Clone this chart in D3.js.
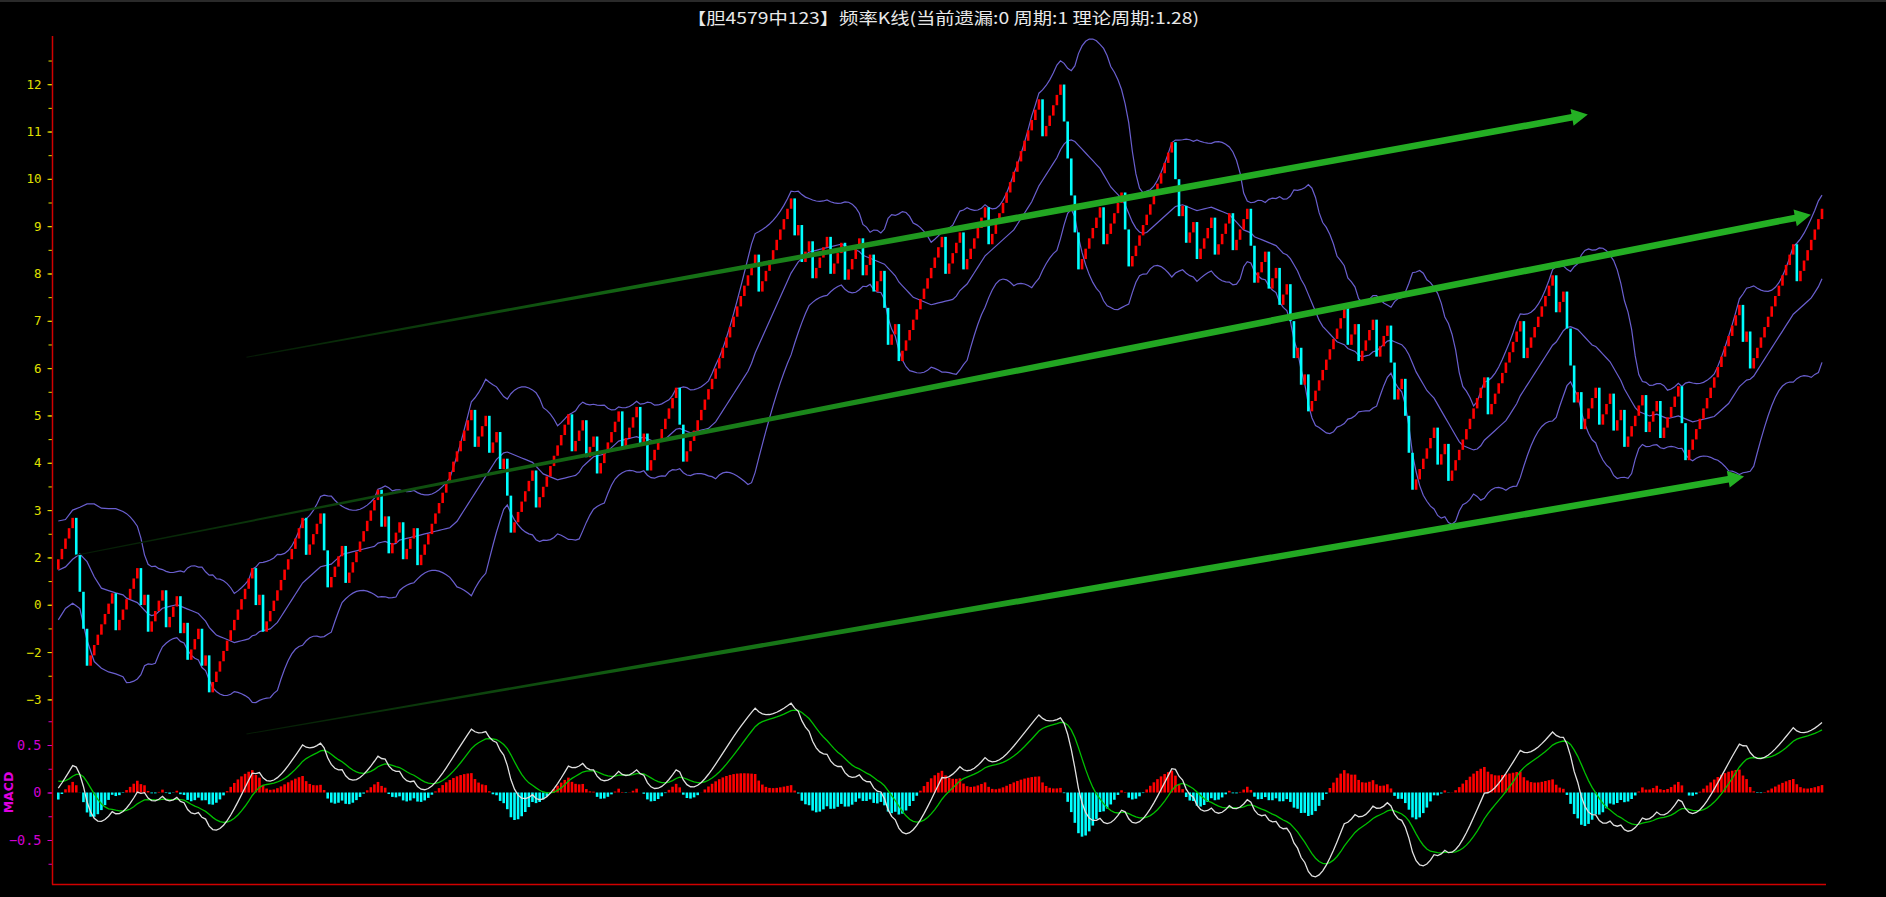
<!DOCTYPE html>
<html><head><meta charset="utf-8">
<script src="https://cdnjs.cloudflare.com/ajax/libs/d3/7.8.5/d3.min.js"></script>
<style>html,body{margin:0;padding:0;background:#000;overflow:hidden}</style>
</head><body><svg id="c" width="1886" height="897"></svg>
<script>
// ---------------- DATA ----------------
const title = "【胆4579中123】频率K线(当前遗漏:0 周期:1 理论周期:1.28)";
const theoryPeriod = 1.28;      // hit => +(1-1/T), miss => -(1/T)
const startValue = 1.743;       // value before the first bar
// run lengths read bar by bar: positive = consecutive hits (red, up), negative = consecutive misses (cyan, down)
const runsA = [5,-4,7,-1,6,-1,1,-1,4,-1,3,-1,1,-1,3,-1,1,-1,12,-1,1,-1,11,-1,4,-2,4,-1];
const runsB = [9,-1,1,-1,3,-1,3,-1,15,-1,3,-1,2,-1,1,-2,6,-1,9,-1,3,-1,2,-1,6,-1,4,-1];
const runsC = [1,-1,8,-2,20,-1,9,-1,1,-1,2,-1,4,-1,3,-1,4,-1,2,-1,2,-2,2,-1,12];
const runsD = [-1,4,-1,6,-1,14,-1,5,-5,6,-1,5,-2,12,-2,1,-1,2,-1,4,-1,4];
const runsE = [-1,4,-2,3,-1,2,-1,2,-2,1,-1,1,-1,10,-1,2,-1,4,-1,3,-2,2,-3,6,-1,2,-1,10,-1,9,-1];
const runsF = [8,-1,2,-3,1,-1,4,-1,3,-1,2,-1,5,-1,3,-1,5,-2,15,-1,1,-1,12,-1,7];

// Bollinger values before a full 20-bar window exists
const bollHeadIdx   = [0,2,4,6,8,10,12,14,16,18];
const bollHeadUpper = [2.77,2.80,3.00,3.06,3.13,3.13,3.04,3.03,3.03,2.97];
const bollHeadMid   = [1.73,1.80,1.96,2.07,1.91,1.59,1.35,1.30,1.25,1.21];
const bollHeadLower = [0.68,0.92,1.03,0.92,0.25,-0.20,-0.34,-0.42,-0.46,-0.52];
const bollPeriod = 20, bollWidth = 2;
// MACD state at first bar
const macdStartDif = 0.046, macdStartDea = 0.12, macdStartEma12Gap = -0.5;

const yTickValues = [12,11,10,9,8,7,6,5,4,3,2,1,0,-1];
const yTickLabels = ["12","11","10","9","8","7","6","5","4","3","2","0","−2","−3"];
const yMinorValues = d3.range(-1, 12.51, 0.5);
const macdTickValues = [0.5,0,-0.5];
const macdTickLabels = ["0.5","0","−0.5"];
const macdMinorValues = [0.75,0.5,0.25,0,-0.25,-0.5,-0.75];

// trend arrows: [start bar index, start value, tip bar index, tip value]
const arrowStartIdx = [52.4, 4.5, 52.4];
const arrowStartVal = [6.23, 2.04, -1.73];
const arrowTipIdx   = [425.8, 487.9, 469.3];
const arrowTipVal   = [11.36, 9.24, 3.71];

// ---------------- BUILD ----------------
const hitStep = 1 - 1/theoryPeriod, missStep = 1/theoryPeriod;
const runs = [...runsA,...runsB,...runsC,...runsD,...runsE,...runsF];
const bars = [];
let val = startValue;
runs.forEach(r => { const n = Math.abs(r); for (let k=0;k<n;k++){ const o = val; val = r>0 ? val+hitStep : val-missStep; bars.push({o, c:val, hit:r>0}); } });
const N = bars.length;
const closes = bars.map(b=>b.c);

const svg = d3.select('#c');
svg.append('rect').attr('width',1886).attr('height',897).attr('fill','#000');
svg.append('rect').attr('x',0).attr('y',0).attr('width',1886).attr('height',2).attr('fill','#2a2a2a');

const x  = d3.scaleLinear().domain([0, N-1]).range([58.3, 1822]);
const y  = d3.scaleLinear().domain([-1, 12]).range([699.4, 84.2]);
const ym = d3.scaleLinear().domain([-0.5, 0.5]).range([840, 745]);

// Bollinger
const up=[], mid=[], lo=[];
bollHeadIdx.forEach((i,k)=>{ up.push([i,bollHeadUpper[k]]); mid.push([i,bollHeadMid[k]]); lo.push([i,bollHeadLower[k]]); });
for (let i=bollPeriod-1;i<N;i++){
  const w = closes.slice(i-bollPeriod+1,i+1);
  const m = d3.mean(w);
  const sd = Math.sqrt(d3.mean(w, v=>(v-m)*(v-m)));
  up.push([i,m+bollWidth*sd]); mid.push([i,m]); lo.push([i,m-bollWidth*sd]);
}
const bl = d3.line().x(d=>x(d[0])).y(d=>y(d[1]));
[up,mid,lo].forEach(s=> svg.append('path').attr('d',bl(s)).attr('fill','none').attr('stroke','#6a5fcf').attr('stroke-width',1.2));

// candles
const cw = 2.6;
svg.append('g').selectAll('rect').data(bars).join('rect')
  .attr('x',(d,i)=>x(i)-cw/2).attr('width',cw)
  .attr('y',d=>y(Math.max(d.o,d.c))).attr('height',d=>Math.max(1,Math.abs(y(d.o)-y(d.c))))
  .attr('fill',d=>d.hit?'#ff0000':'#00ffff');

// MACD
const macd=[];
let e12 = closes[0]+macdStartEma12Gap, e26 = e12-macdStartDif, dea = macdStartDea;
macd.push({dif:e12-e26, dea, bar:(e12-e26)-dea});
for (let i=1;i<N;i++){
  e12 += (closes[i]-e12)*2/13; e26 += (closes[i]-e26)*2/27;
  const dif = e12-e26; dea += (dif-dea)*2/10;
  macd.push({dif, dea, bar:dif-dea});
}
svg.append('g').selectAll('line').data(macd).join('line')
  .attr('x1',(d,i)=>x(i)).attr('x2',(d,i)=>x(i))
  .attr('y1',ym(0)).attr('y2',d=>ym(d.bar))
  .attr('stroke',d=>d.bar>=0?'#ff0000':'#00ffff').attr('stroke-width',2.6);
const ml = k => d3.line().x((d,i)=>x(i)).y(d=>ym(d[k]));
svg.append('path').attr('d',ml('dea')(macd)).attr('fill','none').attr('stroke','#00c000').attr('stroke-width',1.3);
svg.append('path').attr('d',ml('dif')(macd)).attr('fill','none').attr('stroke','#e0e0e0').attr('stroke-width',1.3);

// arrows
const defs = svg.append('defs');
arrowTipIdx.forEach((ti,k)=>{
  const sx=x(arrowStartIdx[k]), sy=y(arrowStartVal[k]), tx=x(ti), ty=y(arrowTipVal[k]);
  const dx=tx-sx, dy=ty-sy, L=Math.hypot(dx,dy), ux=dx/L, uy=dy/L, nx=-uy, ny=ux;
  const hl=16, hw=8.5, bx=tx-ux*hl, by=ty-uy*hl;
  const t=0.6, mx=sx+(bx-sx)*t, my=sy+(by-sy)*t;
  const w0=0.5, w1=3.3;
  const gid='ag'+k;
  const g=defs.append('linearGradient').attr('id',gid).attr('gradientUnits','userSpaceOnUse')
    .attr('x1',sx).attr('y1',sy).attr('x2',tx).attr('y2',ty);
  g.append('stop').attr('offset',0).attr('stop-color','#051a05');
  g.append('stop').attr('offset',0.3).attr('stop-color','#146914');
  g.append('stop').attr('offset',0.55).attr('stop-color','#22a522');
  g.append('stop').attr('offset',1).attr('stop-color','#24b024');
  const pts=[[sx+nx*w0,sy+ny*w0],[mx+nx*w1,my+ny*w1],[bx+nx*w1,by+ny*w1],[bx+nx*hw,by+ny*hw],[tx,ty],
             [bx-nx*hw,by-ny*hw],[bx-nx*w1,by-ny*w1],[mx-nx*w1,my-ny*w1],[sx-nx*w0,sy-ny*w0]];
  svg.append('path').attr('d','M'+pts.map(p=>p.join(',')).join('L')+'Z').attr('fill','url(#'+gid+')');
});

// axes
const font = "'DejaVu Sans Mono', monospace";
const axMain = d3.axisLeft(y).tickValues(yTickValues).tickSize(5).tickPadding(6)
  .tickFormat((d,i)=>yTickLabels[i]);
const gA = svg.append('g').attr('transform','translate(52.5,0)').call(axMain);
gA.select('.domain').remove();
gA.selectAll('line').attr('stroke','#e0e000');
gA.selectAll('text').attr('fill','#e0e000').style('font-family',font).style('font-size','12.5px');
const gA2 = svg.append('g').attr('transform','translate(52.5,0)').call(d3.axisLeft(y).tickValues(yMinorValues).tickSize(4).tickFormat(''));
gA2.select('.domain').remove(); gA2.selectAll('line').attr('stroke','#e0e000');

const axM = d3.axisLeft(ym).tickValues(macdTickValues).tickSize(5).tickPadding(6).tickFormat((d,i)=>macdTickLabels[i]);
const gM = svg.append('g').attr('transform','translate(52.5,0)').call(axM);
gM.select('.domain').remove();
gM.selectAll('line').attr('stroke','#d000d0');
gM.selectAll('text').attr('fill','#d000d0').style('font-family',font).style('font-size','13.5px');
const gM2 = svg.append('g').attr('transform','translate(52.5,0)').call(d3.axisLeft(ym).tickValues(macdMinorValues).tickSize(4).tickFormat(''));
gM2.select('.domain').remove(); gM2.selectAll('line').attr('stroke','#d000d0');

svg.append('line').attr('x1',52.5).attr('x2',52.5).attr('y1',36).attr('y2',884.5).attr('stroke','#d00000').attr('stroke-width',1.5);
svg.append('line').attr('x1',52).attr('x2',1826).attr('y1',884.5).attr('y2',884.5).attr('stroke','#d00000').attr('stroke-width',1.5);

svg.append('text').attr('transform','translate(13,'+ym(0)+') rotate(-90)')
  .attr('text-anchor','middle').attr('fill','#e000e0').style('font-family',"'DejaVu Sans', sans-serif")
  .style('font-weight','bold').style('font-size','12.5px').text('MACD');

svg.append('text').attr('x',943).attr('y',24).attr('text-anchor','middle')
  .attr('fill','#e8e8e8').style('font-family',"'Noto Sans CJK SC', sans-serif").style('font-size','16px')
  .attr('textLength',512).attr('lengthAdjust','spacingAndGlyphs').text(title);
</script></body></html>
